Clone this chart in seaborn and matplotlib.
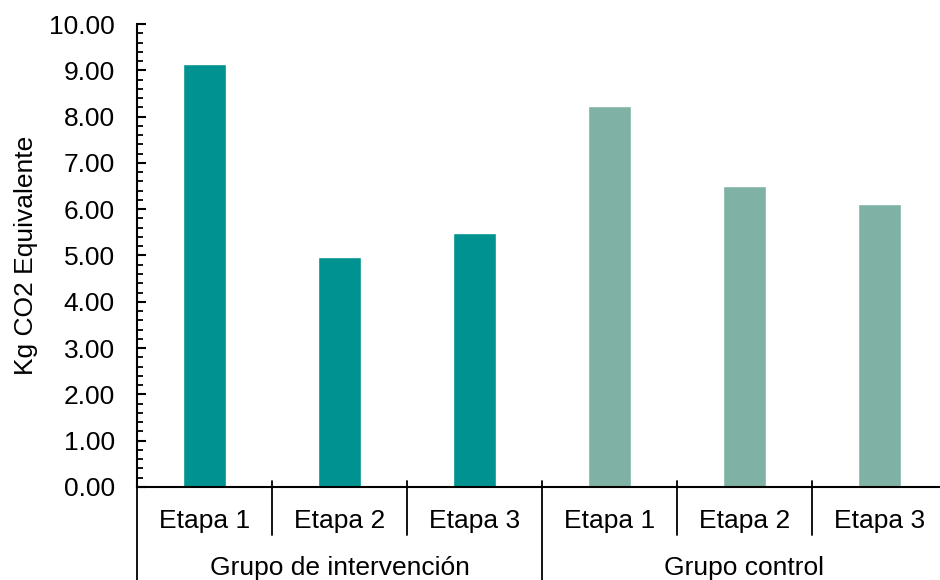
import matplotlib
matplotlib.use("Agg")
import matplotlib.pyplot as plt
import matplotlib.transforms as mtransforms
from matplotlib.ticker import MultipleLocator, FormatStrFormatter
import seaborn as sns
import pandas as pd

# Data
grupos = ["Grupo de intervención", "Grupo de intervención", "Grupo de intervención",
          "Grupo control", "Grupo control", "Grupo control"]
etapas = ["Etapa 1", "Etapa 2", "Etapa 3", "Etapa 1", "Etapa 2", "Etapa 3"]
valores = [9.14, 4.97, 5.49, 8.23, 6.50, 6.11]
colores = {"Grupo de intervención": "#009290", "Grupo control": "#7FB2A5"}

df = pd.DataFrame({"grupo": grupos, "etapa": etapas, "valor": valores})
df["clave"] = df["grupo"] + " | " + df["etapa"]
orden = list(df["clave"])

sns.set_theme(style="white")
plt.rcParams["font.family"] = ["Liberation Sans", "DejaVu Sans"]
plt.rcParams["font.size"] = 19

fig = plt.figure(figsize=(9.4, 5.8), dpi=100)
ax = fig.add_axes([137 / 940, 93 / 580, 810 / 940, 463 / 580])

sns.barplot(data=df, x="clave", y="valor", hue="grupo", order=orden,
            palette=colores, width=0.32, dodge=False, legend=False,
            saturation=1, ax=ax)

ax.set_xlim(-0.5, len(orden) - 0.5)
ax.set_ylim(0, 10)
ax.yaxis.set_major_locator(MultipleLocator(1))
ax.yaxis.set_minor_locator(MultipleLocator(0.2))
ax.yaxis.set_major_formatter(FormatStrFormatter("%.2f"))
ax.tick_params(axis="y", which="major", direction="in", length=6.3, width=1.5,
               color="black", labelsize=19, pad=16, left=True)
ax.tick_params(axis="y", which="minor", direction="in", length=4.5, width=1.3,
               color="black", left=True)
ax.tick_params(axis="x", which="major", direction="in", length=5, width=1.3,
               color="black", labelbottom=False, bottom=True)

for side in ["top", "right"]:
    ax.spines[side].set_visible(False)
for side in ["left", "bottom"]:
    ax.spines[side].set_color("black")
    ax.spines[side].set_linewidth(1.5)

ax.set_xlabel("")
ax.set_ylabel("Kg CO2 Equivalente", fontsize=19, color="black")
ax.yaxis.set_label_coords(-0.122, 0.5)
for lbl in ax.get_yticklabels():
    lbl.set_color("black")

# Two-level category axis drawn below the bars
trans = mtransforms.blended_transform_factory(ax.transData, ax.transAxes)
for i, et in enumerate(etapas):
    ax.text(i, -0.073, et, transform=trans, ha="center", va="center",
            fontsize=19, color="black")

grupos_unicos = list(dict.fromkeys(grupos))
for g in grupos_unicos:
    idx = [i for i, gg in enumerate(grupos) if gg == g]
    centro = (idx[0] + idx[-1]) / 2
    ax.text(centro, -0.176, g, transform=trans, ha="center", va="center",
            fontsize=19, color="black")

n = len(orden)
for k in range(n + 1):
    x = k - 0.5
    es_grupo = (k == 0) or (k == n) or (grupos[k - 1] != grupos[k])
    y_fin = -0.25 if es_grupo else -0.104
    ax.plot([x, x], [0.012, y_fin], transform=trans, color="black",
            linewidth=1.3, clip_on=False)

fig.savefig("out.png", dpi=100, facecolor="white")
